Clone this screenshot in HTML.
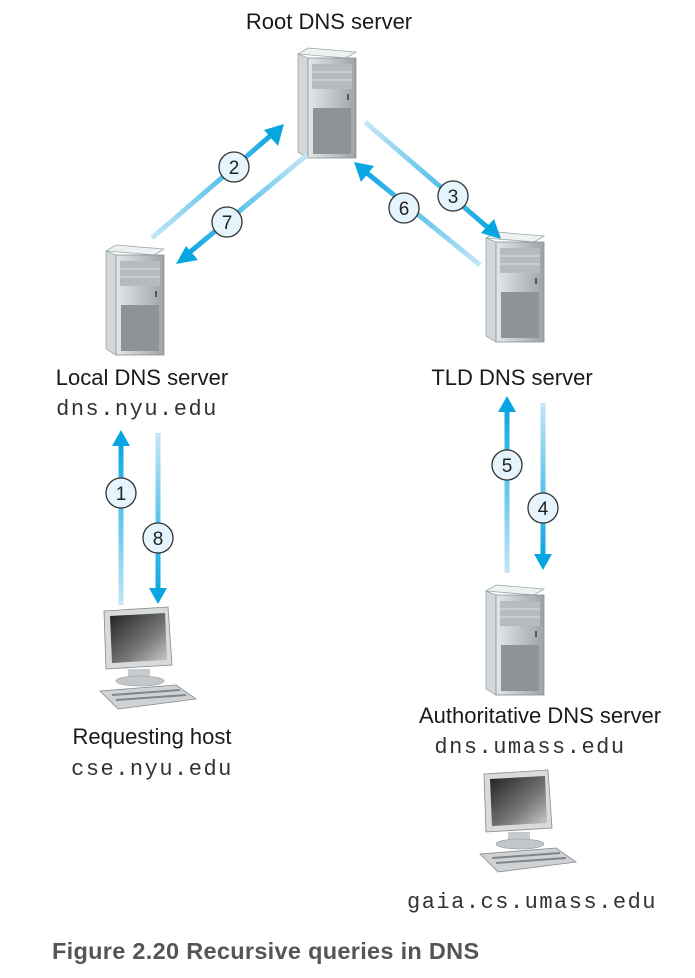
<!DOCTYPE html>
<html><head><meta charset="utf-8"><style>
body{margin:0;background:#fff;width:695px;height:978px;overflow:hidden}
svg{display:block}
.l{font-family:"Liberation Sans",sans-serif;font-size:22px;fill:#1a1a1a;text-anchor:middle}
.m{font-family:"Liberation Mono",monospace;font-size:22px;letter-spacing:1.5px;fill:#333;text-anchor:middle}
.n{font-family:"Liberation Sans",sans-serif;font-size:19px;fill:#222;text-anchor:middle}
</style></head><body>
<svg width="695" height="978" viewBox="0 0 695 978">
<defs>
<linearGradient id="sv" x1="0" x2="1"><stop offset="0" stop-color="#e4e6e8"/><stop offset="1" stop-color="#9ea3a8"/></linearGradient>
<linearGradient id="scr" x1="0" y1="0" x2="1" y2="1"><stop offset="0" stop-color="#222"/><stop offset="0.6" stop-color="#777"/><stop offset="1" stop-color="#ccc"/></linearGradient>
<g id="srv">
<polygon points="0,6 10,0 58,4 48,10" fill="#eef0f1" stroke="#9aa" stroke-width="0.8"/>
<polygon points="0,6 10,10 10,110 0,104" fill="#d4d7da" stroke="#9aa" stroke-width="0.8"/>
<rect x="10" y="10" width="48" height="100" fill="url(#sv)" stroke="#8a9095" stroke-width="0.8"/>
<rect x="14" y="16" width="40" height="25" fill="#b6bbbf"/>
<line x1="14" y1="24" x2="54" y2="24" stroke="#ddd"/><line x1="14" y1="32" x2="54" y2="32" stroke="#ddd"/>
<rect x="15" y="60" width="38" height="46" fill="#8d9397"/>
<rect x="49" y="46" width="2" height="6" fill="#555"/>
</g>
<g id="pc">
<polygon points="6,4 70,0 74,58 8,62" fill="#d8dbdd" stroke="#888" stroke-width="0.8"/>
<polygon points="12,9 67,6 69,53 14,56" fill="url(#scr)"/>
<rect x="30" y="62" width="22" height="10" fill="#c8cbce"/>
<ellipse cx="42" cy="74" rx="24" ry="5" fill="#c4c7ca" stroke="#999" stroke-width="0.6"/>
<polygon points="2,84 78,78 98,92 20,102" fill="#cfd2d5" stroke="#888" stroke-width="0.8"/>
<line x1="14" y1="88" x2="82" y2="83" stroke="#7f8589" stroke-width="2"/>
<line x1="18" y1="93" x2="88" y2="88" stroke="#7f8589" stroke-width="2"/>
</g>
</defs>

<text class="l" x="329" y="29">Root DNS server</text>
<use href="#srv" x="298" y="48"/>
<use href="#srv" x="106" y="245"/>
<use href="#srv" x="486" y="232"/>
<use href="#srv" x="486" y="585"/>
<use href="#pc" x="98" y="607"/>
<use href="#pc" x="478" y="770"/>

<g stroke-width="5" fill="none">
<defs>
<linearGradient id="g2" gradientUnits="userSpaceOnUse" x1="152" y1="238" x2="276" y2="131"><stop offset="0" stop-color="#c4e6f7"/><stop offset="1" stop-color="#08a6e0"/></linearGradient>
<linearGradient id="g7" gradientUnits="userSpaceOnUse" x1="307" y1="155" x2="184" y2="257"><stop offset="0" stop-color="#c4e6f7"/><stop offset="1" stop-color="#08a6e0"/></linearGradient>
<linearGradient id="g3" gradientUnits="userSpaceOnUse" x1="365" y1="122" x2="493" y2="232"><stop offset="0" stop-color="#c4e6f7"/><stop offset="1" stop-color="#08a6e0"/></linearGradient>
<linearGradient id="g6" gradientUnits="userSpaceOnUse" x1="480" y1="265" x2="362" y2="169"><stop offset="0" stop-color="#c4e6f7"/><stop offset="1" stop-color="#08a6e0"/></linearGradient>
<linearGradient id="g1" gradientUnits="userSpaceOnUse" x1="0" y1="605" x2="0" y2="440"><stop offset="0" stop-color="#c4e6f7"/><stop offset="1" stop-color="#08a6e0"/></linearGradient>
<linearGradient id="g8" gradientUnits="userSpaceOnUse" x1="0" y1="433" x2="0" y2="594"><stop offset="0" stop-color="#c4e6f7"/><stop offset="1" stop-color="#08a6e0"/></linearGradient>
<linearGradient id="g5" gradientUnits="userSpaceOnUse" x1="0" y1="573" x2="0" y2="406"><stop offset="0" stop-color="#c4e6f7"/><stop offset="1" stop-color="#08a6e0"/></linearGradient>
<linearGradient id="g4" gradientUnits="userSpaceOnUse" x1="0" y1="403" x2="0" y2="560"><stop offset="0" stop-color="#c4e6f7"/><stop offset="1" stop-color="#08a6e0"/></linearGradient>
</defs>
<line x1="152" y1="238" x2="276" y2="131" stroke="url(#g2)"/>
<line x1="307" y1="155" x2="184" y2="257" stroke="url(#g7)"/>
<line x1="365" y1="122" x2="493" y2="232" stroke="url(#g3)"/>
<line x1="480" y1="265" x2="362" y2="169" stroke="url(#g6)"/>
<line x1="121" y1="605" x2="121" y2="440" stroke="url(#g1)"/>
<line x1="158" y1="433" x2="158" y2="594" stroke="url(#g8)"/>
<line x1="507" y1="573" x2="507" y2="406" stroke="url(#g5)"/>
<line x1="543" y1="403" x2="543" y2="560" stroke="url(#g4)"/>
</g>
<g fill="#08a6e0">
<polygon points="284,124 264,130 278,146"/>
<polygon points="176,264 186,246 198,260"/>
<polygon points="501,239 494,219 481,233"/>
<polygon points="354,162 374,166 361,182"/>
<polygon points="121,430 112,446 130,446"/>
<polygon points="158,604 149,588 167,588"/>
<polygon points="507,396 498,412 516,412"/>
<polygon points="543,570 534,554 552,554"/>
</g>
<g fill="#e6f5fd" stroke="#333" stroke-width="1.3">
<circle cx="234" cy="167" r="15"/><circle cx="227" cy="222" r="15"/>
<circle cx="404" cy="208" r="15"/><circle cx="453" cy="196" r="15"/>
<circle cx="121" cy="493" r="15"/><circle cx="158" cy="538" r="15"/>
<circle cx="507" cy="465" r="15"/><circle cx="543" cy="508" r="15"/>
</g>
<text class="n" x="234" y="174">2</text><text class="n" x="227" y="229">7</text>
<text class="n" x="404" y="215">6</text><text class="n" x="453" y="203">3</text>
<text class="n" x="121" y="500">1</text><text class="n" x="158" y="545">8</text>
<text class="n" x="507" y="472">5</text><text class="n" x="543" y="515">4</text>

<text class="l" x="142" y="385">Local DNS server</text>
<text class="m" x="137" y="415">dns.nyu.edu</text>
<text class="l" x="512" y="385">TLD DNS server</text>
<text class="l" x="152" y="744">Requesting host</text>
<text class="m" x="152" y="775">cse.nyu.edu</text>
<text class="l" x="540" y="723">Authoritative DNS server</text>
<text class="m" x="530" y="753">dns.umass.edu</text>
<text class="m" x="532" y="908">gaia.cs.umass.edu</text>
<text x="52" y="959" style="font-family:'Liberation Sans',sans-serif;font-weight:bold;font-size:23.5px;letter-spacing:0.3px;fill:#555">Figure 2.20 Recursive queries in DNS</text>
</svg>
</body></html>
